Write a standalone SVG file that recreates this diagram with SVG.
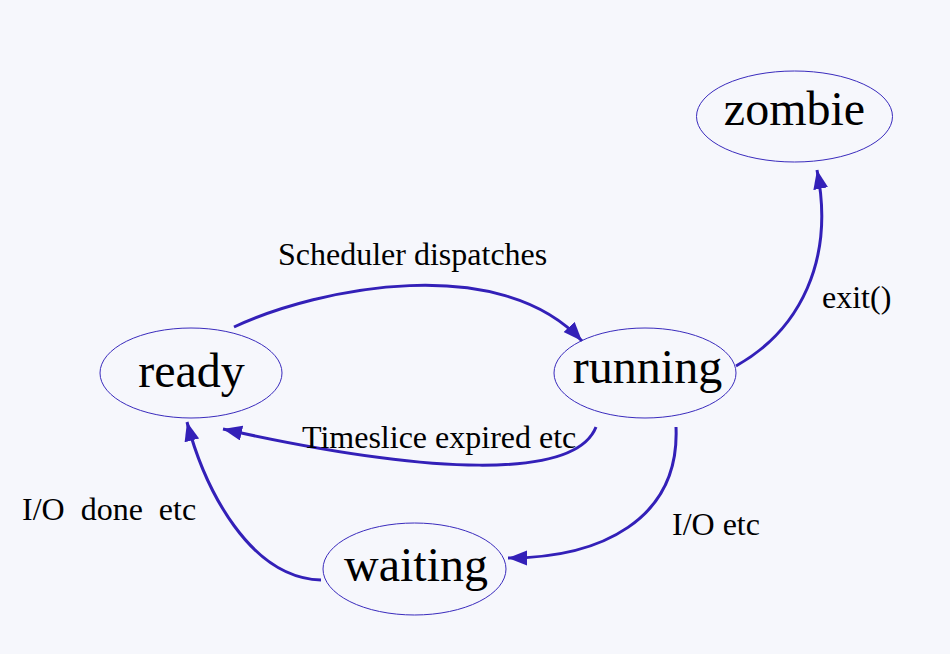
<svg xmlns="http://www.w3.org/2000/svg" width="950" height="654" viewBox="0 0 950 654">
  <style>
    .node ellipse { fill: none; stroke: #3a2bbd; stroke-width: 1; }
    .node text { font-family: "Liberation Serif", "Times New Roman", serif; font-size: 48px; fill: #000; text-anchor: middle; }
    .edge { fill: none; stroke: #3320b8; stroke-width: 3; marker-end: url(#arrow); }
    .label { font-family: "Liberation Serif", "Times New Roman", serif; font-size: 32px; fill: #000; white-space: pre; }
  </style>
  <defs>
    <marker id="arrow" markerUnits="userSpaceOnUse" markerWidth="20" markerHeight="16" refX="19" refY="7.5" orient="auto">
      <path d="M0,0 L19,7.5 L0,15 z" fill="#3320b8"/>
    </marker>
  </defs>
  <rect width="950" height="654" fill="#f6f7fc"/>

  <g id="connectors">
    <path class="edge" d="M234,327 C320,287 500,252 582,341"/>
    <path class="edge" d="M596,427 C575,480 430,475 223,429"/>
    <path class="edge" d="M676,427 C680,520 600,558 508,558"/>
    <path class="edge" d="M321,580 C250,578 205,490 187,422"/>
    <path class="edge" d="M736,366 C800,330 835,260 817,170"/>
    <text class="label" x="278" y="265">Scheduler dispatches</text>
    <text class="label" x="302" y="448">Timeslice expired etc</text>
    <text class="label" x="822" y="308">exit()</text>
    <text class="label" x="672" y="535">I/O etc</text>
    <text class="label" x="22" y="520" xml:space="preserve">I/O  done  etc</text>
  </g>

  <g id="ready" class="node">
    <ellipse cx="191" cy="373" rx="91" ry="45"/>
    <text x="191.5" y="387">ready</text>
  </g>
  <g id="running" class="node">
    <ellipse cx="645" cy="373" rx="91" ry="45"/>
    <text x="647.5" y="383">running</text>
  </g>
  <g id="zombie" class="node">
    <ellipse cx="794.5" cy="116.5" rx="98" ry="45.5"/>
    <text x="794.5" y="125">zombie</text>
  </g>
  <g id="waiting" class="node">
    <ellipse cx="414.5" cy="569" rx="91.5" ry="46"/>
    <text x="416" y="581">waiting</text>
  </g>
</svg>
